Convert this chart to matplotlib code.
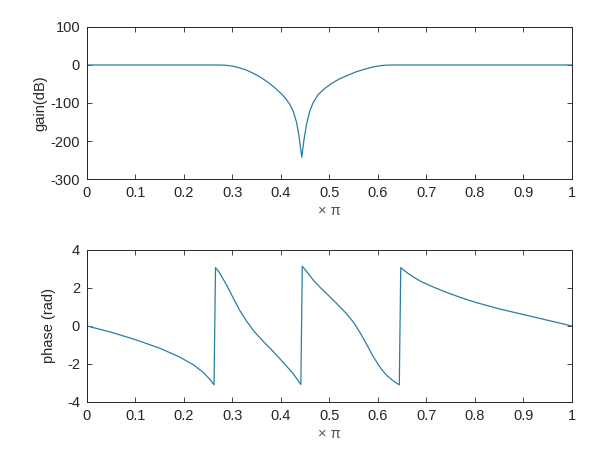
import numpy as np
import matplotlib
matplotlib.use("Agg")
import matplotlib.pyplot as plt

plt.rcParams["font.family"] = ["Liberation Sans", "DejaVu Sans"]
plt.rcParams["axes.unicode_minus"] = False

# gain curve (x in units of pi, y in dB)
gain_x = [0.0, 0.10, 0.20, 0.27, 0.285, 0.30, 0.31, 0.326, 0.34, 0.355, 0.367,
          0.38, 0.39, 0.401, 0.41, 0.418, 0.425, 0.432, 0.437, 0.440, 0.443,
          0.446, 0.449, 0.453, 0.459, 0.466, 0.476, 0.49, 0.504, 0.52, 0.538,
          0.555, 0.573, 0.59, 0.607, 0.62, 0.63, 0.70, 0.80, 0.90, 1.0]
gain_db = [0, 0, 0, 0, -0.5, -3, -6, -12, -20, -30, -40,
           -52, -63, -76, -89, -103, -121, -150, -185, -215, -243,
           -210, -184, -155, -123, -100, -79, -62, -49, -37, -27,
           -18, -11, -5, -1.5, -0.3, 0, 0, 0, 0, 0]

# phase curve (rad)
phase_x = [0.0, 0.05, 0.10, 0.15, 0.19, 0.22, 0.24, 0.255, 0.262, 0.265, 0.272,
           0.28, 0.288, 0.295, 0.305, 0.315, 0.33, 0.345, 0.365, 0.385, 0.405,
           0.425, 0.441, 0.444, 0.455, 0.467, 0.484, 0.501, 0.518,
           0.535, 0.55, 0.563, 0.577, 0.59, 0.605, 0.618, 0.632, 0.644, 0.647,
           0.66, 0.673, 0.69, 0.714, 0.74, 0.77, 0.80, 0.85, 0.90, 0.95, 1.0]
phase_rad = [0.0, -0.33, -0.72, -1.17, -1.62, -2.05, -2.45, -2.85, -3.1, 3.07, 2.85,
             2.5, 2.15, 1.8, 1.3, 0.82, 0.22, -0.3, -0.85, -1.37, -1.93,
             -2.5, -3.08, 3.14, 2.8, 2.4, 1.95, 1.53, 1.1,
             0.65, 0.18, -0.35, -0.98, -1.6, -2.2, -2.6, -2.9, -3.1, 3.07,
             2.8, 2.58, 2.32, 2.05, 1.78, 1.5, 1.25, 0.9, 0.6, 0.3, 0.0]

xticks = [0, 0.1, 0.2, 0.3, 0.4, 0.5, 0.6, 0.7, 0.8, 0.9, 1]
xticklabels = ["0", "0.1", "0.2", "0.3", "0.4", "0.5", "0.6", "0.7", "0.8", "0.9", "1"]

line_color = "#2b7ea1"
axis_color = "#262626"

fig = plt.figure(figsize=(6.1, 4.65), dpi=100)
ax1 = fig.add_axes([0.1426, 0.615, 0.795, 0.327])
ax2 = fig.add_axes([0.1426, 0.1355, 0.795, 0.327])


def style(ax):
    ax.set_xlim(0, 1)
    ax.set_xticks(xticks)
    ax.set_xticklabels(xticklabels)
    ax.tick_params(direction="in", top=True, right=True, length=3.5,
                   width=0.6, colors=axis_color, labelsize=10.5, pad=5)
    for s in ax.spines.values():
        s.set_color(axis_color)
        s.set_linewidth(0.7)
    ax.set_xlabel("× π", color="#555555", fontsize=10.5, labelpad=3)


ax1.plot(gain_x, gain_db, color=line_color, lw=0.9)
ax1.set_ylim(-300, 100)
ax1.set_yticks([-300, -200, -100, 0, 100])
ax1.set_ylabel("gain(dB)", color=axis_color, fontsize=10.5, labelpad=2)
style(ax1)

ax2.plot(phase_x, phase_rad, color=line_color, lw=0.9)
ax2.set_ylim(-4, 4)
ax2.set_yticks([-4, -2, 0, 2, 4])
ax2.set_ylabel("phase (rad)", color=axis_color, fontsize=10.5, labelpad=8)
style(ax2)

fig.savefig("out.png", dpi=100)
